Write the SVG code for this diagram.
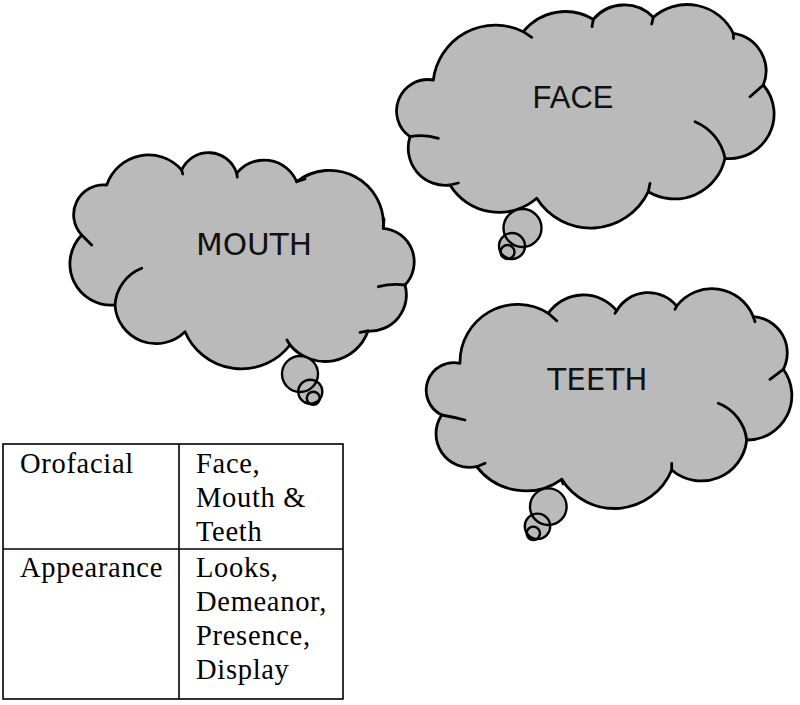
<svg xmlns="http://www.w3.org/2000/svg" width="800" height="705" viewBox="0 0 800 705">
<style>
.cloud{fill:#bababa;stroke:#000;stroke-width:2.8;stroke-linejoin:round}
.wr{fill:none;stroke:#000;stroke-width:2.8;stroke-linecap:round}
.tf{fill:#bababa;stroke:none}
.ts{fill:none;stroke:#000;stroke-width:2.4}
.lbl{font-size:31px;fill:#111;text-anchor:middle}
.tbl{fill:none;stroke:#000;stroke-width:1.6}
.tt{font-family:"Liberation Serif","Times New Roman",serif;font-size:28.5px;letter-spacing:0.7px;fill:#000}
</style>
<rect width="800" height="705" fill="#fff"/>

<g id="face">
<path class="cloud" d="M 433.3 80 A 62.6 62.6 0 0 1 523.3 31.7 A 54.2 54.2 0 0 1 593.3 19.3 A 40.5 40.5 0 0 1 653.3 17.3 A 51.3 51.3 0 0 1 733.3 33.3 A 38 38 0 0 1 763.3 85 A 44.5 44.5 0 0 1 725 158.3 A 51.5 51.5 0 0 1 648.3 191.7 A 63.8 63.8 0 0 1 536.7 198.3 A 57.5 57.5 0 0 1 450 185 A 37.2 37.2 0 0 1 410 136.7 A 31.4 31.4 0 0 1 433.3 80 Z"/>
<path class="wr" d="M 695 121.7 A 50 50 0 0 1 725 158.3 M 410 136.7 Q 425 134 438.3 138.3 M 450 185 L 458.3 183 M 648.3 191.7 L 650 183.3 M 733.3 33.3 L 733.5 38.5 M 653.3 17.3 L 651.7 24 M 593.3 19.3 L 592 26.7 M 523.3 31.7 L 531.7 37.3 M 763.3 85 L 750 96.7"/>
<circle class="tf" cx="522.5" cy="228" r="19"/>
<circle class="tf" cx="512" cy="246" r="13"/>
<circle class="tf" cx="507.5" cy="252" r="7"/>
<circle class="ts" cx="522.5" cy="228" r="19"/>
<circle class="ts" cx="512" cy="246" r="13"/>
<circle class="ts" cx="507.5" cy="252" r="7"/>
<text class="lbl" x="573" y="108" font-family="'Liberation Sans', Arial, sans-serif">FACE</text>
</g>

<g id="mouth">
<path class="cloud" d="M 106.7 185 A 44.1 44.1 0 0 1 181.7 170 A 29.5 29.5 0 0 1 236.7 173.3 A 35.2 35.2 0 0 1 296.7 181.7 A 53.7 53.7 0 0 1 383.3 228.3 A 33.7 33.7 0 0 1 405 285 A 36.2 36.2 0 0 1 368 331 A 45.5 45.5 0 0 1 290 345 A 61.4 61.4 0 0 1 185 331.7 A 41.1 41.1 0 0 1 115 305 A 41.3 41.3 0 0 1 81.7 235 A 29.8 29.8 0 0 1 106.7 185 Z"/>
<path class="wr" d="M 141.7 268.3 A 42 42 0 0 0 115 305 M 81.7 235 L 91.7 245 M 368 331 L 360 332.3 M 405 285 Q 392 283 378.3 286.7 M 383.3 228.3 L 384 219 M 296.7 181.7 L 305 179 M 290 345 L 287 340 M 181.7 170 L 182.7 174 M 236.7 173.3 L 237.3 177"/>
<circle class="tf" cx="300" cy="374" r="18"/>
<circle class="tf" cx="310.3" cy="391.7" r="12"/>
<circle class="tf" cx="313.3" cy="398.3" r="6.5"/>
<circle class="ts" cx="300" cy="374" r="18"/>
<circle class="ts" cx="310.3" cy="391.7" r="12"/>
<circle class="ts" cx="313.3" cy="398.3" r="6.5"/>
<text class="lbl" x="254" y="255" font-family="'DejaVu Sans', Verdana, sans-serif">MOUTH</text>
</g>

<g id="teeth">
<path class="cloud" d="M 460 363.3 A 57.6 57.6 0 0 1 548.3 313.3 A 42.9 42.9 0 0 1 616.7 310.7 A 36.7 36.7 0 0 1 676.7 306 A 44.5 44.5 0 0 1 753.3 316.7 A 36.2 36.2 0 0 1 783.3 369.3 A 44.5 44.5 0 0 1 746.7 440 A 45.6 45.6 0 0 1 671.7 470 A 62 62 0 0 1 561.7 479.3 A 61.7 61.7 0 0 1 476.7 466.7 A 33.7 33.7 0 0 1 441.7 415 A 27.6 27.6 0 0 1 460 363.3 Z"/>
<path class="wr" d="M 718.3 403.3 A 45 45 0 0 1 746.7 440 M 441.7 415 Q 453 417 465 420 M 476.7 466.7 L 485 463.3 M 671.7 470 L 671.7 463.3 M 783.3 369.3 L 770 379.3 M 753.3 316.7 L 755 321.7 M 676.7 306 L 675 309.3 M 616.7 310.7 L 615 313.3 M 548.3 313.3 L 556.7 320.7 M 561.7 479.3 L 563 484"/>
<circle class="tf" cx="548.3" cy="506.7" r="18.3"/>
<circle class="tf" cx="537.5" cy="526.3" r="12.7"/>
<circle class="tf" cx="533.3" cy="533.3" r="6.7"/>
<circle class="ts" cx="548.3" cy="506.7" r="18.3"/>
<circle class="ts" cx="537.5" cy="526.3" r="12.7"/>
<circle class="ts" cx="533.3" cy="533.3" r="6.7"/>
<text class="lbl" x="597.5" y="390" font-family="'DejaVu Sans', Verdana, sans-serif" font-size="30">TEETH</text>
</g>

<g id="table">
<rect class="tbl" x="3" y="444" width="340" height="255"/>
<line class="tbl" x1="179" y1="444" x2="179" y2="699"/>
<line class="tbl" x1="3" y1="549" x2="343" y2="549"/>
<text class="tt" x="20" y="473">Orofacial</text>
<text class="tt" x="196" y="473">Face,</text>
<text class="tt" x="196" y="507">Mouth &amp;</text>
<text class="tt" x="196" y="541">Teeth</text>
<text class="tt" x="20" y="577">Appearance</text>
<text class="tt" x="196" y="577">Looks,</text>
<text class="tt" x="196" y="611">Demeanor,</text>
<text class="tt" x="196" y="645">Presence,</text>
<text class="tt" x="196" y="679">Display</text>
</g>
</svg>
